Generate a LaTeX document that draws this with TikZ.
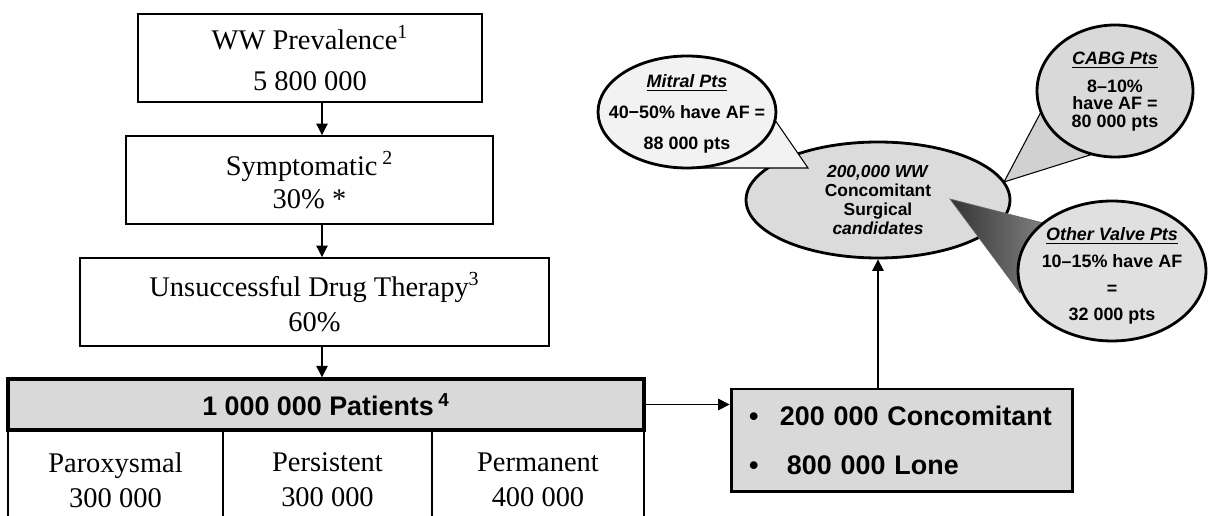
\documentclass[tikz,border=0pt]{standalone}
\usepackage{fontspec}
\setmainfont{Liberation Serif}
\newfontfamily\arialfont{Liberation Sans}
\usetikzlibrary{arrows.meta,shapes.geometric}

\tikzset{
  flowbox/.style={draw, line width=1.1pt, align=center, inner sep=0pt,
    font=\fontsize{16.2}{19.9}\selectfont},
  cellbox/.style={flowbox, minimum height=2cm},
  totalbox/.style={draw, line width=1.9pt, fill=black!15, inner sep=0pt,
    font=\arialfont\bfseries\fontsize{15.3}{18}\selectfont},
  bubble/.style={ellipse, draw, line width=1.6pt, inner sep=0pt},
  bubbletext/.style={align=center, inner sep=0pt,
    font=\arialfont\bfseries\fontsize{10.2}{10}\selectfont},
  calloutwedge/.style={draw, line width=0.6pt},
  flowarrow/.style={-{Triangle[length=6.5pt,width=6.5pt]}, line width=0.6pt}
}

\begin{document}
\begin{tikzpicture}[x=0.02cm, y=-0.02cm]
  \useasboundingbox (0,0) rectangle (1208,516);
  % Now the flow on the left
  \node[flowbox, minimum width=6.88cm, minimum height=1.76cm] (prev) at (310,58)
    {WW Prevalence\textsuperscript{1}\\[3pt]5 800 000};
  \node[flowbox, minimum width=7.34cm, minimum height=1.76cm] (symp) at (309.5,180)
    {Symptomatic\,\textsuperscript{2}\\[-1pt]30\% *};
  \node[flowbox, minimum width=9.38cm, minimum height=1.76cm] (drug) at (314.5,302)
    {Unsuccessful Drug Therapy\textsuperscript{3}\\60\%};
  % the three kinds of AF
  \node[cellbox, minimum width=4.3cm] (parox) at (115.5,480) {Paroxysmal\\300 000};
  \node[cellbox, minimum width=4.18cm] (persist) at (327.5,480) {Persistent\\300 000};
  \node[cellbox, minimum width=4.24cm] (perm) at (538,480) {Permanent\\400 000};
  \node[totalbox, minimum width=12.72cm, minimum height=1.02cm] (total) at (326,404.5)
    {1 000 000 Patients\,\textsuperscript{4}};
  \coordinate (axis) at (322,0);
  \draw[flowarrow] (prev.south -| axis) -- (symp.north -| axis);
  \draw[flowarrow] (symp.south -| axis) -- (drug.north -| axis);
  \draw[flowarrow] (drug.south -| axis) -- (total.north -| axis);
  % Now the split box
  \node[draw, line width=1.7pt, fill=black!15, inner xsep=10.2pt, inner ysep=0pt,
    text width=6.12cm, minimum height=2.06cm, align=left,
    font=\arialfont\bfseries\fontsize{15.3}{28.3}\selectfont] (split) at (902,440.5)
    {\textbullet\hspace{12.2pt}200 000 Concomitant\\\textbullet\hspace{16.2pt}800 000 Lone};
  \draw[flowarrow] (total.east) -- (total.east -| split.west);
  % Now the surgical candidates and the callouts
  \node[bubble, fill=black!14, minimum width=5.28cm, minimum height=2.32cm, align=center,
    font=\arialfont\bfseries\fontsize{9.9}{10.9}\selectfont] (cand) at (878,200)
    {\textit{200,000 WW}\\Concomitant\\Surgical\\\textit{candidates}};
  \draw[flowarrow] (split.north -| cand.south) -- (cand.south);
  \coordinate (mtip) at (808,168);
  \draw[calloutwedge, fill=black!5] (775,120) -- (mtip) -- (687,168) -- cycle;
  \node[bubble, fill=black!5, minimum width=3.56cm, minimum height=2.24cm] (mitral) at (687,112) {};
  \node[bubbletext] (mitraltext) at (687,114)
    {\underline{\textit{Mitral Pts}}\\[7.6pt]40−50\% have AF =\\[7.6pt]88 000 pts};
  \coordinate (ctip) at (1004,182);
  \draw[calloutwedge, fill=black!18] (1042,110) -- (ctip) -- (1090,155) -- cycle;
  \node[bubble, fill=black!15, minimum width=3.12cm, minimum height=2.64cm] (cabg) at (1115,91) {};
  \node[bubbletext] (cabgtext) at (1115,91.5)
    {\underline{\textit{CABG Pts}}\\[5.9pt]8–10\%\\have AF =\\80 000 pts};
  \coordinate (otip) at (950,199);
  \shade[left color=black!80, right color=black!50, draw=black!60, line width=0.4pt]
    (1043,223) -- (otip) -- (1020,293) -- cycle;
  \node[bubble, fill=black!12, minimum width=3.76cm, minimum height=2.8cm] (valve) at (1112,271) {};
  \node[bubbletext] (valvetext) at (1112,276)
    {\underline{\textit{Other Valve Pts}}\\[5.3pt]10–15\% have AF\\[5.3pt]=\\[5.3pt]32 000 pts};
\end{tikzpicture}
\end{document}
